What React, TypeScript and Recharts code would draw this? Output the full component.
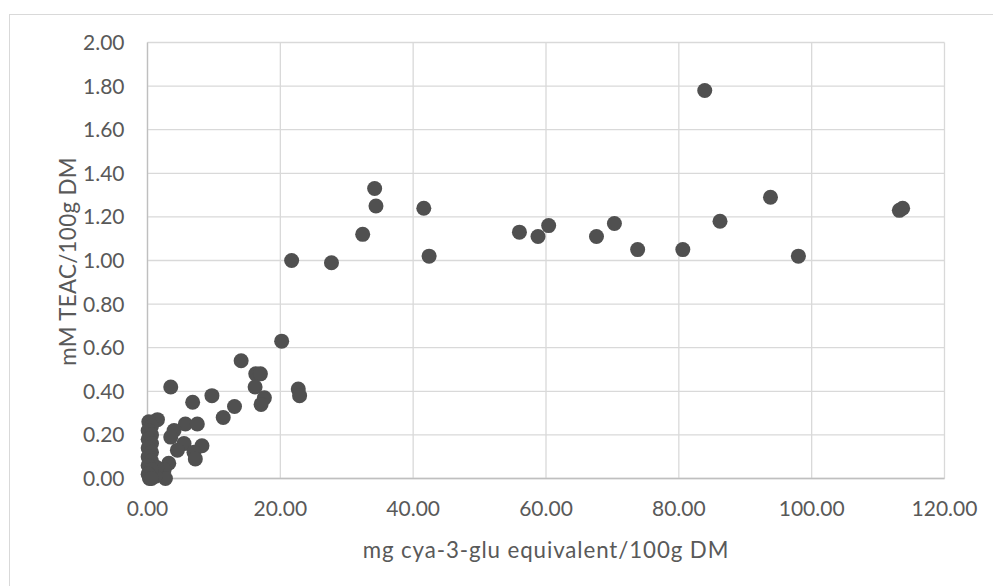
import React from 'react'
import { CartesianGrid, Label, Scatter, ScatterChart, XAxis, YAxis } from 'recharts'

// anthocyanin content (mg cya-3-glu equivalent / 100 g DM)
const anthocyanin = [
  83.9, 41.6, 42.4, 56.0, 58.8, 60.4, 67.6, 70.3, 73.8, 80.6, 86.2, 93.8, 98.0, 113.2, 113.7,
  34.2, 34.4, 32.4, 21.7, 27.7, 20.2, 14.1, 16.3, 17.0, 16.2, 22.7, 22.9, 17.6, 17.1,
  3.5, 9.7, 6.8, 13.1, 11.4,
  5.7, 7.5, 4.0, 3.5, 5.5, 8.2, 4.5, 7.0, 7.2, 3.2, 2.5, 2.7, 1.4, 1.2, 1.5,
  0.2, 0.6, 0.1, 0.6, 0.1, 0.6, 0.1, 0.6, 0.1, 0.6, 0.1, 0.6, 0.1, 0.3, 0.6,
]

// antioxidant capacity (mM TEAC / 100 g DM)
const teac = [
  1.78, 1.24, 1.02, 1.13, 1.11, 1.16, 1.11, 1.17, 1.05, 1.05, 1.18, 1.29, 1.02, 1.23, 1.24,
  1.33, 1.25, 1.12, 1.0, 0.99, 0.63, 0.54, 0.48, 0.48, 0.42, 0.41, 0.38, 0.37, 0.34,
  0.42, 0.38, 0.35, 0.33, 0.28,
  0.25, 0.25, 0.22, 0.19, 0.16, 0.15, 0.13, 0.12, 0.09, 0.07, 0.04, 0.0, 0.05, 0.01, 0.27,
  0.26, 0.24, 0.22, 0.2, 0.18, 0.16, 0.14, 0.12, 0.1, 0.08, 0.06, 0.04, 0.02, 0.0, 0.0,
]

const xTicks = [0, 20, 40, 60, 80, 100, 120]
const yTicks = [0, 0.2, 0.4, 0.6, 0.8, 1.0, 1.2, 1.4, 1.6, 1.8, 2.0]

const xTitle = 'mg cya-3-glu equivalent/100g DM'
const yTitle = 'mM TEAC/100g DM'

const data = anthocyanin.map((x, i) => ({ x, y: teac[i] }))

const FONT = 'Lato, "Open Sans", sans-serif'
const TEXT = '#595959'
const GRID = '#d9d9d9'
const AXIS = '#bfbfbf'
const DOT = '#505050'

export default function App() {
  return (
    <div
      style={{
        position: 'absolute',
        left: 0,
        top: 0,
        width: 993,
        height: 586,
        overflow: 'hidden',
        background: '#fff',
        fontFamily: FONT,
      }}
    >
      <div
        style={{
          position: 'absolute',
          left: 9,
          top: 14,
          width: 1000,
          height: 600,
          border: `1px solid ${GRID}`,
        }}
      />
      <div style={{ position: 'absolute', left: 0, top: 0 }}>
        <ScatterChart
          width={993}
          height={586}
          margin={{ top: 42.5, right: 48.5, bottom: 27.5, left: 10 }}
        >
          <CartesianGrid stroke={GRID} strokeWidth={1.3} />
          <XAxis
            type="number"
            dataKey="x"
            domain={[0, 120]}
            ticks={xTicks}
            interval={0}
            height={80}
            tickFormatter={(v: number) => v.toFixed(2)}
            tick={{ fontSize: 21, fill: TEXT, fontFamily: FONT }}
            tickLine={false}
            tickSize={0}
            tickMargin={23}
            axisLine={{ stroke: AXIS, strokeWidth: 1.3 }}
          >
            <Label
              content={({ viewBox }: any) => (
                <text
                  x={viewBox.x + viewBox.width / 2}
                  y={viewBox.y + 79}
                  textAnchor="middle"
                  fontSize={22.3}
                  letterSpacing={0.9}
                  fill={TEXT}
                  fontFamily={FONT}
                >
                  {xTitle}
                </text>
              )}
            />
          </XAxis>
          <YAxis
            type="number"
            dataKey="y"
            domain={[0, 2]}
            ticks={yTicks}
            interval={0}
            width={137.5}
            tickFormatter={(v: number) => v.toFixed(2)}
            tick={{ fontSize: 21, fill: TEXT, fontFamily: FONT }}
            tickLine={false}
            tickSize={0}
            tickMargin={23}
            axisLine={{ stroke: AXIS, strokeWidth: 1.3 }}
          >
            <Label
              content={({ viewBox }: any) => {
                const cx = viewBox.x + 66
                const cy = viewBox.y + viewBox.height / 2 + 1
                return (
                  <text
                    x={cx}
                    y={cy}
                    transform={`rotate(-90 ${cx} ${cy})`}
                    textAnchor="middle"
                    fontSize={22.3}
                    letterSpacing={0.35}
                    fill={TEXT}
                    fontFamily={FONT}
                  >
                    {yTitle}
                  </text>
                )
              }}
            />
          </YAxis>
          <Scatter
            data={data}
            isAnimationActive={false}
            shape={(p: any) => <circle cx={p.cx} cy={p.cy} r={7.5} fill={DOT} />}
          />
        </ScatterChart>
      </div>
    </div>
  )
}
